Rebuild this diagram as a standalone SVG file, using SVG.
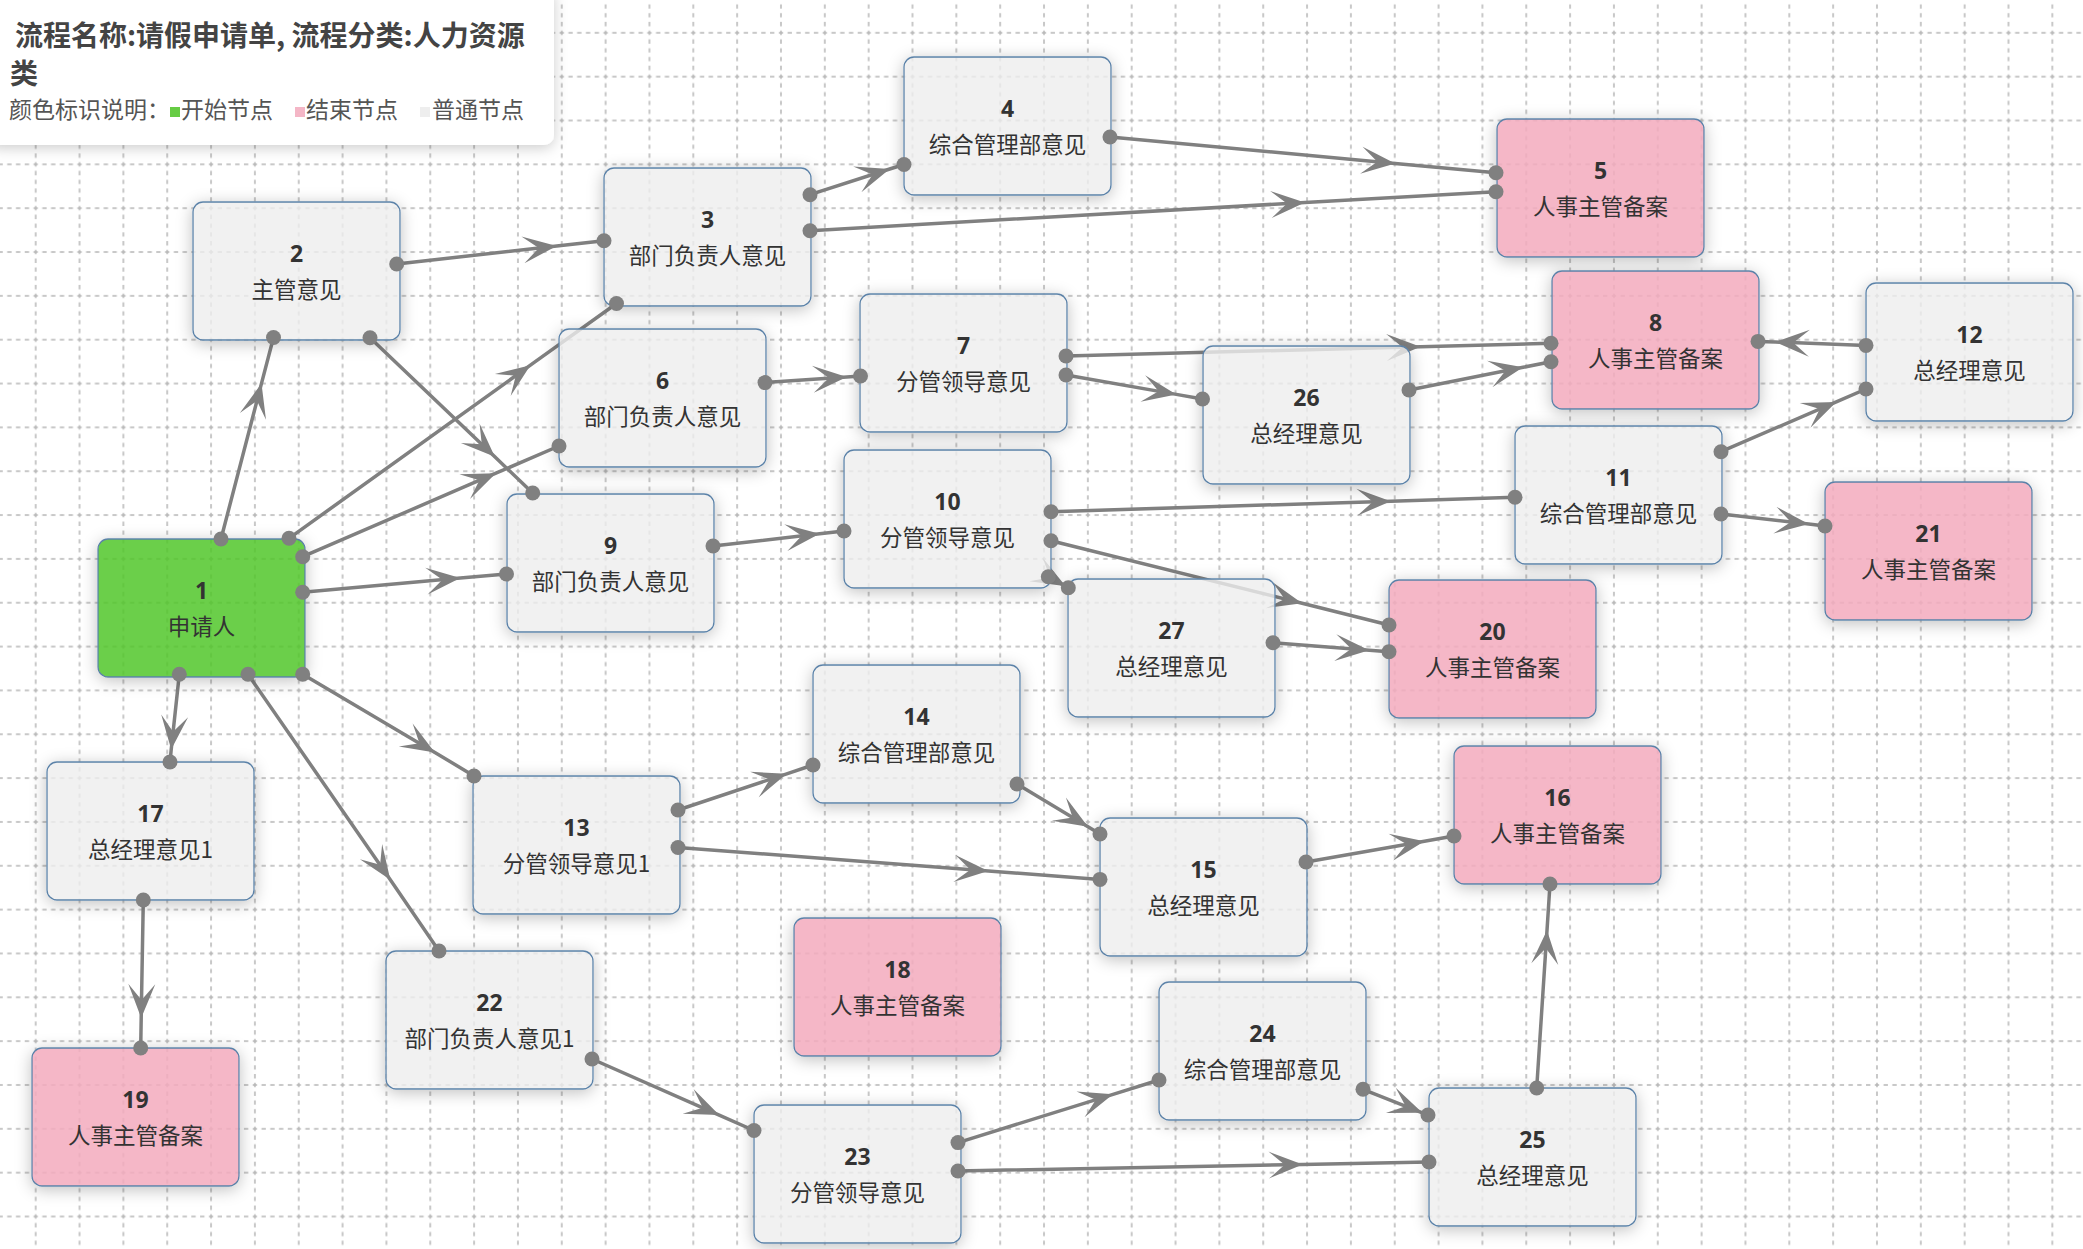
<svg xmlns="http://www.w3.org/2000/svg" width="2083" height="1249" viewBox="0 0 2083 1249">
<defs>
<style>
.bg{fill:#ffffff}
.edge{fill:none;stroke:#808080;stroke-width:3.5;marker-mid:url(#arrow)}
.dot{fill:#808080}
.box{stroke:#5b82a8;stroke-width:1.3;filter:url(#sh)}
.normal .box{fill:#eeeeee;fill-opacity:0.8}
.start .box{fill:#52c72c;fill-opacity:0.85}
.end .box{fill:#f3aabd;fill-opacity:0.85}
.num{font-family:"Noto Sans","Noto Sans CJK SC",sans-serif;font-weight:bold;font-size:23px;fill:#333;text-anchor:middle}
.lbl{font-family:"Noto Sans CJK SC","Noto Sans",sans-serif;font-size:22.5px;fill:#333;text-anchor:middle}
.title{font-family:"Noto Sans CJK SC",sans-serif;font-weight:bold;font-size:28px;fill:#444}
.legend{font-family:"Noto Sans CJK SC",sans-serif;font-size:23px;fill:#555}
</style>
<pattern id="grid" patternUnits="userSpaceOnUse" x="13.78" y="10.9" width="43.84" height="43.84">
<path d="M0 21.92H43.84M21.92 0V43.84" stroke="#b6b6b6" stroke-width="1.5" stroke-dasharray="4.384 4.384" stroke-dashoffset="6.576" fill="none"/>
</pattern>
<marker id="arrow" viewBox="-36 -15 38 30" refX="0" refY="0" markerWidth="38" markerHeight="30" markerUnits="userSpaceOnUse" orient="auto">
<path d="M0,0 L-34,-13.5 L-18,0 L-34,13.5 Z" fill="#808080"/>
</marker>
<filter id="sh" x="-20%" y="-25%" width="140%" height="155%">
<feComponentTransfer in="SourceAlpha" result="a"><feFuncA type="discrete" tableValues="0 1"/></feComponentTransfer>
<feGaussianBlur in="a" stdDeviation="8" result="b"/>
<feOffset in="b" dy="3" result="o"/>
<feFlood flood-color="#000" flood-opacity="0.24"/>
<feComposite in2="o" operator="in" result="s"/>
<feComposite in="s" in2="a" operator="out" result="s2"/>
<feMerge><feMergeNode in="s2"/><feMergeNode in="SourceGraphic"/></feMerge>
</filter>
<filter id="tsh" x="-10%" y="-20%" width="120%" height="150%">
<feDropShadow dx="0" dy="3" stdDeviation="7" flood-color="#000" flood-opacity="0.2"/>
</filter>
</defs>
<rect class="bg" x="0" y="0" width="2083" height="1249"/>
<rect x="0" y="0" width="2083" height="1249" fill="url(#grid)"/>

<g id="connectors">
<path class="edge" d="M221,539 L261.5,383.4 L273.5,337.5"/>
<path class="edge" d="M289,538.3 L530.4,365.2 L616.5,303.5"/>
<path class="edge" d="M302.7,556.7 L495.9,473.2 L559,446"/>
<path class="edge" d="M302.7,592.3 L460.3,578.1 L506.5,574"/>
<path class="edge" d="M179.3,674.3 L171.2,749.6 L170,762"/>
<path class="edge" d="M248,674.3 L390.3,879.7 L439,951"/>
<path class="edge" d="M302.7,674.3 L434.9,752.4 L474,776"/>
<path class="edge" d="M396.7,264 L556.7,246 L604,240.7"/>
<path class="edge" d="M370,337.7 L494.8,456.8 L532.7,493"/>
<path class="edge" d="M810,194.7 L889.7,169 L904,164.5"/>
<path class="edge" d="M810,230.7 L1304.9,202.5 L1496,191.7"/>
<path class="edge" d="M1110,137 L1395.2,163.4 L1496,172.7"/>
<path class="edge" d="M765,382.6 L846.8,376.9 L860.5,376"/>
<path class="edge" d="M1066,356 L1420.5,346.7 L1551,343.3"/>
<path class="edge" d="M1066,375 L1176.3,394.4 L1202.5,399"/>
<path class="edge" d="M1409,390 L1523.1,367.3 L1551,361.7"/>
<path class="edge" d="M1866,345.4 L1775.4,342 L1758,341.4"/>
<path class="edge" d="M713,546 L819.6,533.8 L844,531"/>
<path class="edge" d="M1051,511.7 L1390.8,501.2 L1515,497.3"/>
<path class="edge" d="M1051,540.7 L1302.1,603.3 L1389,625"/>
<path class="edge" d="M1048.3,576.7 L1065.7,586.2 L1068.3,587.7"/>
<path class="edge" d="M1273,642.7 L1369.2,650.2 L1389,651.7"/>
<path class="edge" d="M1721,451.7 L1836.3,401.9 L1866,389"/>
<path class="edge" d="M1721,514 L1808.7,524.1 L1825,526"/>
<path class="edge" d="M678,810 L786.7,773.8 L813,765"/>
<path class="edge" d="M678,847.5 L988.3,871 L1100,879.4"/>
<path class="edge" d="M1017,784 L1088,826.7 L1100,834"/>
<path class="edge" d="M1306,862 L1424.4,841.2 L1454,836"/>
<path class="edge" d="M143.3,900 L141.2,1018 L140.7,1048"/>
<path class="edge" d="M592,1059 L719.2,1115.1 L754,1130.5"/>
<path class="edge" d="M958,1142.6 L1113,1094.3 L1159,1080"/>
<path class="edge" d="M958,1171 L1302.7,1164.4 L1429,1162"/>
<path class="edge" d="M1363,1089.3 L1422.4,1112.8 L1428,1115"/>
<path class="edge" d="M1536.7,1088 L1547,930.3 L1550,884"/>
</g>

<g id="node-1" class="node start" transform="translate(98,539)"><rect class="box" width="207" height="138" rx="10"/><text class="num" x="103.5" y="60">1</text><text class="lbl" x="103.5" y="96">申请人</text></g>
<g id="node-2" class="node normal" transform="translate(193,202)"><rect class="box" width="207" height="138" rx="10"/><text class="num" x="103.5" y="60">2</text><text class="lbl" x="103.5" y="96">主管意见</text></g>
<g id="node-3" class="node normal" transform="translate(604,168)"><rect class="box" width="207" height="138" rx="10"/><text class="num" x="103.5" y="60">3</text><text class="lbl" x="103.5" y="96">部门负责人意见</text></g>
<g id="node-4" class="node normal" transform="translate(904,57)"><rect class="box" width="207" height="138" rx="10"/><text class="num" x="103.5" y="60">4</text><text class="lbl" x="103.5" y="96">综合管理部意见</text></g>
<g id="node-5" class="node end" transform="translate(1497,119)"><rect class="box" width="207" height="138" rx="10"/><text class="num" x="103.5" y="60">5</text><text class="lbl" x="103.5" y="96">人事主管备案</text></g>
<g id="node-6" class="node normal" transform="translate(559,329)"><rect class="box" width="207" height="138" rx="10"/><text class="num" x="103.5" y="60">6</text><text class="lbl" x="103.5" y="96">部门负责人意见</text></g>
<g id="node-7" class="node normal" transform="translate(860,294)"><rect class="box" width="207" height="138" rx="10"/><text class="num" x="103.5" y="60">7</text><text class="lbl" x="103.5" y="96">分管领导意见</text></g>
<g id="node-8" class="node end" transform="translate(1552,271)"><rect class="box" width="207" height="138" rx="10"/><text class="num" x="103.5" y="60">8</text><text class="lbl" x="103.5" y="96">人事主管备案</text></g>
<g id="node-9" class="node normal" transform="translate(507,494)"><rect class="box" width="207" height="138" rx="10"/><text class="num" x="103.5" y="60">9</text><text class="lbl" x="103.5" y="96">部门负责人意见</text></g>
<g id="node-10" class="node normal" transform="translate(844,450)"><rect class="box" width="207" height="138" rx="10"/><text class="num" x="103.5" y="60">10</text><text class="lbl" x="103.5" y="96">分管领导意见</text></g>
<g id="node-11" class="node normal" transform="translate(1515,426)"><rect class="box" width="207" height="138" rx="10"/><text class="num" x="103.5" y="60">11</text><text class="lbl" x="103.5" y="96">综合管理部意见</text></g>
<g id="node-12" class="node normal" transform="translate(1866,283)"><rect class="box" width="207" height="138" rx="10"/><text class="num" x="103.5" y="60">12</text><text class="lbl" x="103.5" y="96">总经理意见</text></g>
<g id="node-13" class="node normal" transform="translate(473,776)"><rect class="box" width="207" height="138" rx="10"/><text class="num" x="103.5" y="60">13</text><text class="lbl" x="103.5" y="96">分管领导意见1</text></g>
<g id="node-14" class="node normal" transform="translate(813,665)"><rect class="box" width="207" height="138" rx="10"/><text class="num" x="103.5" y="60">14</text><text class="lbl" x="103.5" y="96">综合管理部意见</text></g>
<g id="node-15" class="node normal" transform="translate(1100,818)"><rect class="box" width="207" height="138" rx="10"/><text class="num" x="103.5" y="60">15</text><text class="lbl" x="103.5" y="96">总经理意见</text></g>
<g id="node-16" class="node end" transform="translate(1454,746)"><rect class="box" width="207" height="138" rx="10"/><text class="num" x="103.5" y="60">16</text><text class="lbl" x="103.5" y="96">人事主管备案</text></g>
<g id="node-17" class="node normal" transform="translate(47,762)"><rect class="box" width="207" height="138" rx="10"/><text class="num" x="103.5" y="60">17</text><text class="lbl" x="103.5" y="96">总经理意见1</text></g>
<g id="node-18" class="node end" transform="translate(794,918)"><rect class="box" width="207" height="138" rx="10"/><text class="num" x="103.5" y="60">18</text><text class="lbl" x="103.5" y="96">人事主管备案</text></g>
<g id="node-19" class="node end" transform="translate(32,1048)"><rect class="box" width="207" height="138" rx="10"/><text class="num" x="103.5" y="60">19</text><text class="lbl" x="103.5" y="96">人事主管备案</text></g>
<g id="node-20" class="node end" transform="translate(1389,580)"><rect class="box" width="207" height="138" rx="10"/><text class="num" x="103.5" y="60">20</text><text class="lbl" x="103.5" y="96">人事主管备案</text></g>
<g id="node-21" class="node end" transform="translate(1825,482)"><rect class="box" width="207" height="138" rx="10"/><text class="num" x="103.5" y="60">21</text><text class="lbl" x="103.5" y="96">人事主管备案</text></g>
<g id="node-22" class="node normal" transform="translate(386,951)"><rect class="box" width="207" height="138" rx="10"/><text class="num" x="103.5" y="60">22</text><text class="lbl" x="103.5" y="96">部门负责人意见1</text></g>
<g id="node-23" class="node normal" transform="translate(754,1105)"><rect class="box" width="207" height="138" rx="10"/><text class="num" x="103.5" y="60">23</text><text class="lbl" x="103.5" y="96">分管领导意见</text></g>
<g id="node-24" class="node normal" transform="translate(1159,982)"><rect class="box" width="207" height="138" rx="10"/><text class="num" x="103.5" y="60">24</text><text class="lbl" x="103.5" y="96">综合管理部意见</text></g>
<g id="node-25" class="node normal" transform="translate(1429,1088)"><rect class="box" width="207" height="138" rx="10"/><text class="num" x="103.5" y="60">25</text><text class="lbl" x="103.5" y="96">总经理意见</text></g>
<g id="node-26" class="node normal" transform="translate(1203,346)"><rect class="box" width="207" height="138" rx="10"/><text class="num" x="103.5" y="60">26</text><text class="lbl" x="103.5" y="96">总经理意见</text></g>
<g id="node-27" class="node normal" transform="translate(1068,579)"><rect class="box" width="207" height="138" rx="10"/><text class="num" x="103.5" y="60">27</text><text class="lbl" x="103.5" y="96">总经理意见</text></g>

<g id="connector-ends">
<circle class="dot" cx="221" cy="539" r="7.5"/><circle class="dot" cx="273.5" cy="337.5" r="7.5"/>
<circle class="dot" cx="289" cy="538.3" r="7.5"/><circle class="dot" cx="616.5" cy="303.5" r="7.5"/>
<circle class="dot" cx="302.7" cy="556.7" r="7.5"/><circle class="dot" cx="559" cy="446" r="7.5"/>
<circle class="dot" cx="302.7" cy="592.3" r="7.5"/><circle class="dot" cx="506.5" cy="574" r="7.5"/>
<circle class="dot" cx="179.3" cy="674.3" r="7.5"/><circle class="dot" cx="170" cy="762" r="7.5"/>
<circle class="dot" cx="248" cy="674.3" r="7.5"/><circle class="dot" cx="439" cy="951" r="7.5"/>
<circle class="dot" cx="302.7" cy="674.3" r="7.5"/><circle class="dot" cx="474" cy="776" r="7.5"/>
<circle class="dot" cx="396.7" cy="264" r="7.5"/><circle class="dot" cx="604" cy="240.7" r="7.5"/>
<circle class="dot" cx="370" cy="337.7" r="7.5"/><circle class="dot" cx="532.7" cy="493" r="7.5"/>
<circle class="dot" cx="810" cy="194.7" r="7.5"/><circle class="dot" cx="904" cy="164.5" r="7.5"/>
<circle class="dot" cx="810" cy="230.7" r="7.5"/><circle class="dot" cx="1496" cy="191.7" r="7.5"/>
<circle class="dot" cx="1110" cy="137" r="7.5"/><circle class="dot" cx="1496" cy="172.7" r="7.5"/>
<circle class="dot" cx="765" cy="382.6" r="7.5"/><circle class="dot" cx="860.5" cy="376" r="7.5"/>
<circle class="dot" cx="1066" cy="356" r="7.5"/><circle class="dot" cx="1551" cy="343.3" r="7.5"/>
<circle class="dot" cx="1066" cy="375" r="7.5"/><circle class="dot" cx="1202.5" cy="399" r="7.5"/>
<circle class="dot" cx="1409" cy="390" r="7.5"/><circle class="dot" cx="1551" cy="361.7" r="7.5"/>
<circle class="dot" cx="1866" cy="345.4" r="7.5"/><circle class="dot" cx="1758" cy="341.4" r="7.5"/>
<circle class="dot" cx="713" cy="546" r="7.5"/><circle class="dot" cx="844" cy="531" r="7.5"/>
<circle class="dot" cx="1051" cy="511.7" r="7.5"/><circle class="dot" cx="1515" cy="497.3" r="7.5"/>
<circle class="dot" cx="1051" cy="540.7" r="7.5"/><circle class="dot" cx="1389" cy="625" r="7.5"/>
<circle class="dot" cx="1048.3" cy="576.7" r="7.5"/><circle class="dot" cx="1068.3" cy="587.7" r="7.5"/>
<circle class="dot" cx="1273" cy="642.7" r="7.5"/><circle class="dot" cx="1389" cy="651.7" r="7.5"/>
<circle class="dot" cx="1721" cy="451.7" r="7.5"/><circle class="dot" cx="1866" cy="389" r="7.5"/>
<circle class="dot" cx="1721" cy="514" r="7.5"/><circle class="dot" cx="1825" cy="526" r="7.5"/>
<circle class="dot" cx="678" cy="810" r="7.5"/><circle class="dot" cx="813" cy="765" r="7.5"/>
<circle class="dot" cx="678" cy="847.5" r="7.5"/><circle class="dot" cx="1100" cy="879.4" r="7.5"/>
<circle class="dot" cx="1017" cy="784" r="7.5"/><circle class="dot" cx="1100" cy="834" r="7.5"/>
<circle class="dot" cx="1306" cy="862" r="7.5"/><circle class="dot" cx="1454" cy="836" r="7.5"/>
<circle class="dot" cx="143.3" cy="900" r="7.5"/><circle class="dot" cx="140.7" cy="1048" r="7.5"/>
<circle class="dot" cx="592" cy="1059" r="7.5"/><circle class="dot" cx="754" cy="1130.5" r="7.5"/>
<circle class="dot" cx="958" cy="1142.6" r="7.5"/><circle class="dot" cx="1159" cy="1080" r="7.5"/>
<circle class="dot" cx="958" cy="1171" r="7.5"/><circle class="dot" cx="1429" cy="1162" r="7.5"/>
<circle class="dot" cx="1363" cy="1089.3" r="7.5"/><circle class="dot" cx="1428" cy="1115" r="7.5"/>
<circle class="dot" cx="1536.7" cy="1088" r="7.5"/><circle class="dot" cx="1550" cy="884" r="7.5"/>
</g>

<g id="legend">
<rect x="-12" y="-12" width="566" height="157" rx="10" fill="#ffffff" filter="url(#tsh)"/>
<text class="title" x="15" y="46">流程名称:请假申请单, 流程分类:人力资源</text>
<text class="title" x="10" y="84">类</text>
<text class="legend" x="9" y="118">颜色标识说明：</text>
<rect x="170" y="107" width="10" height="10" fill="#66cc44"/>
<text class="legend" x="181" y="118">开始节点</text>
<rect x="295" y="107" width="10" height="10" fill="#f4b6c6"/>
<text class="legend" x="306" y="118">结束节点</text>
<rect x="420" y="107" width="10" height="10" fill="#eeeeee"/>
<text class="legend" x="432" y="118">普通节点</text>
</g>
</svg>
